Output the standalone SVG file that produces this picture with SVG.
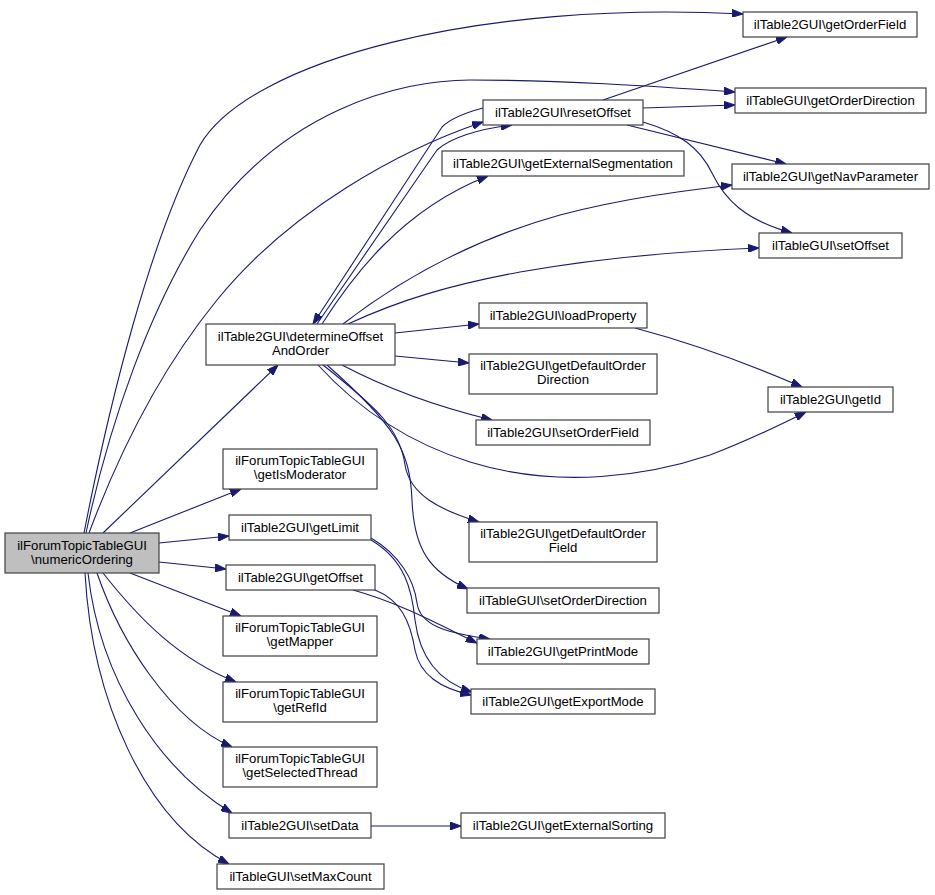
<svg xmlns="http://www.w3.org/2000/svg" width="935" height="895" viewBox="0 0 935 895">
<defs>
<marker id="ah" markerWidth="11" markerHeight="8" refX="11" refY="4" orient="auto" markerUnits="userSpaceOnUse"><path d="M0,0 L11,4 L0,8 z" fill="#191970" stroke="#191970" stroke-width="1"/></marker>
</defs>
<style>
.n rect{fill:#fff;stroke:#404040;stroke-width:1.2}
.n.root rect{fill:#bfbfbf}
.n text{font-family:"Liberation Sans",Arial,sans-serif;font-size:13.2px;fill:#000;text-anchor:middle}
#edges path{fill:none;stroke:#191970;stroke-width:1.1;marker-end:url(#ah)}
</style>
<rect width="935" height="895" fill="#fff"/>
<g id="edges">
<path d="M84,533 C110,400 150,240 200,145 C250,60 480,0 743,14"/>
<path d="M86,533 C110,420 150,310 200,230 C280,110 400,80 470,80 C560,80 650,86 735,92"/>
<path d="M89,533 C120,450 160,370 217,300 C290,210 400,150 483,122"/>
<path d="M483,108 C468,112 452,117 442,127 L313,324"/>
<path d="M317,324 L437,150 C450,138 478,129 512,125"/>
<path d="M322,324 C350,280 400,210 488,176"/>
<path d="M343,324 C400,280 470,240 560,215 C630,197 690,190 732,185"/>
<path d="M348,324 C400,300 450,285 520,272 C600,258 680,251 759,248"/>
<path d="M603,100 L787,37"/>
<path d="M643,108 L735,105"/>
<path d="M627,125 L786,164"/>
<path d="M643,122 C680,133 700,148 712,173 C725,200 745,220 792,233"/>
<path d="M635,328 C680,340 740,360 802,387"/>
<path d="M103,533 L278,365"/>
<path d="M130,533 L241,489"/>
<path d="M159,543 L229,536"/>
<path d="M159,562 L226,569"/>
<path d="M130,573 L241,616"/>
<path d="M103,573 C140,620 180,660 236,682"/>
<path d="M97,573 C120,640 170,720 232,747"/>
<path d="M88,573 C100,680 160,770 232,813"/>
<path d="M85,573 C92,700 145,820 229,864"/>
<path d="M371,826 L461,826"/>
<path d="M395,333 L479,324"/>
<path d="M395,356 L469,363"/>
<path d="M342,365 C380,385 430,405 492,420"/>
<path d="M318,365 C350,400 400,440 470,462 C560,490 650,475 710,455 C750,440 780,425 806,412"/>
<path d="M323,365 C380,410 400,430 405,465 C410,495 440,510 479,522"/>
<path d="M327,365 C395,425 410,450 412,500 C414,550 430,572 468,589"/>
<path d="M371,538 C400,555 414,580 417,603 C420,625 445,633 490,639"/>
<path d="M371,540 C405,560 412,590 415,620 C420,660 440,682 472,692"/>
<path d="M353,590 C400,603 440,625 477,643"/>
<path d="M375,590 C400,600 410,620 415,650 C420,675 440,688 471,695"/>
</g>
<g id="numericOrdering" class="n root"><rect x="5" y="533" width="154" height="40"/><text x="82" y="549.5">ilForumTopicTableGUI</text><text x="82" y="563.5">\numericOrdering</text></g>
<g id="getOrderField" class="n"><rect x="743" y="12" width="174" height="25"/><text x="830" y="29">ilTable2GUI\getOrderField</text></g>
<g id="getOrderDirection" class="n"><rect x="735" y="88" width="191" height="25"/><text x="830.5" y="105">ilTableGUI\getOrderDirection</text></g>
<g id="resetOffset" class="n"><rect x="483" y="100" width="160" height="25"/><text x="563" y="117">ilTable2GUI\resetOffset</text></g>
<g id="getExternalSegmentation" class="n"><rect x="442" y="151" width="242" height="25"/><text x="563" y="168">ilTable2GUI\getExternalSegmentation</text></g>
<g id="getNavParameter" class="n"><rect x="732" y="164" width="197" height="25"/><text x="830.5" y="181">ilTable2GUI\getNavParameter</text></g>
<g id="setOffset" class="n"><rect x="759" y="233" width="143" height="25"/><text x="830.5" y="250">ilTableGUI\setOffset</text></g>
<g id="determineOffsetAndOrder" class="n"><rect x="206" y="324" width="189" height="41"/><text x="300.5" y="341">ilTable2GUI\determineOffset</text><text x="300.5" y="355">AndOrder</text></g>
<g id="loadProperty" class="n"><rect x="479" y="303" width="168" height="25"/><text x="563" y="320">ilTable2GUI\loadProperty</text></g>
<g id="getDefaultOrderDirection" class="n"><rect x="469" y="354" width="188" height="40"/><text x="563" y="370">ilTable2GUI\getDefaultOrder</text><text x="563" y="384">Direction</text></g>
<g id="setOrderField" class="n"><rect x="476" y="420" width="174" height="25"/><text x="563" y="437">ilTable2GUI\setOrderField</text></g>
<g id="getId" class="n"><rect x="768" y="387" width="125" height="25"/><text x="830.5" y="404">ilTable2GUI\getId</text></g>
<g id="getDefaultOrderField" class="n"><rect x="469" y="522" width="188" height="40"/><text x="563" y="538">ilTable2GUI\getDefaultOrder</text><text x="563" y="552">Field</text></g>
<g id="setOrderDirection" class="n"><rect x="467" y="588" width="192" height="25"/><text x="563" y="605">ilTableGUI\setOrderDirection</text></g>
<g id="getPrintMode" class="n"><rect x="477" y="639" width="172" height="25"/><text x="563" y="656">ilTable2GUI\getPrintMode</text></g>
<g id="getExportMode" class="n"><rect x="471" y="689" width="184" height="25"/><text x="563" y="706">ilTable2GUI\getExportMode</text></g>
<g id="getExternalSorting" class="n"><rect x="461" y="813" width="204" height="25"/><text x="563" y="830">ilTable2GUI\getExternalSorting</text></g>
<g id="getIsModerator" class="n"><rect x="223" y="449" width="154" height="40"/><text x="300" y="465">ilForumTopicTableGUI</text><text x="300" y="479">\getIsModerator</text></g>
<g id="getLimit" class="n"><rect x="229" y="515" width="142" height="25"/><text x="300" y="532">ilTable2GUI\getLimit</text></g>
<g id="getOffset" class="n"><rect x="226" y="565" width="149" height="25"/><text x="300.5" y="582">ilTable2GUI\getOffset</text></g>
<g id="getMapper" class="n"><rect x="223" y="616" width="154" height="40"/><text x="300" y="632">ilForumTopicTableGUI</text><text x="300" y="646">\getMapper</text></g>
<g id="getRefId" class="n"><rect x="223" y="682" width="154" height="40"/><text x="300" y="698">ilForumTopicTableGUI</text><text x="300" y="712">\getRefId</text></g>
<g id="getSelectedThread" class="n"><rect x="223" y="747" width="154" height="40"/><text x="300" y="763">ilForumTopicTableGUI</text><text x="300" y="777">\getSelectedThread</text></g>
<g id="setData" class="n"><rect x="229" y="813" width="142" height="25"/><text x="300" y="830">ilTable2GUI\setData</text></g>
<g id="setMaxCount" class="n"><rect x="217" y="864" width="167" height="25"/><text x="300.5" y="881">ilTableGUI\setMaxCount</text></g>
</svg>
